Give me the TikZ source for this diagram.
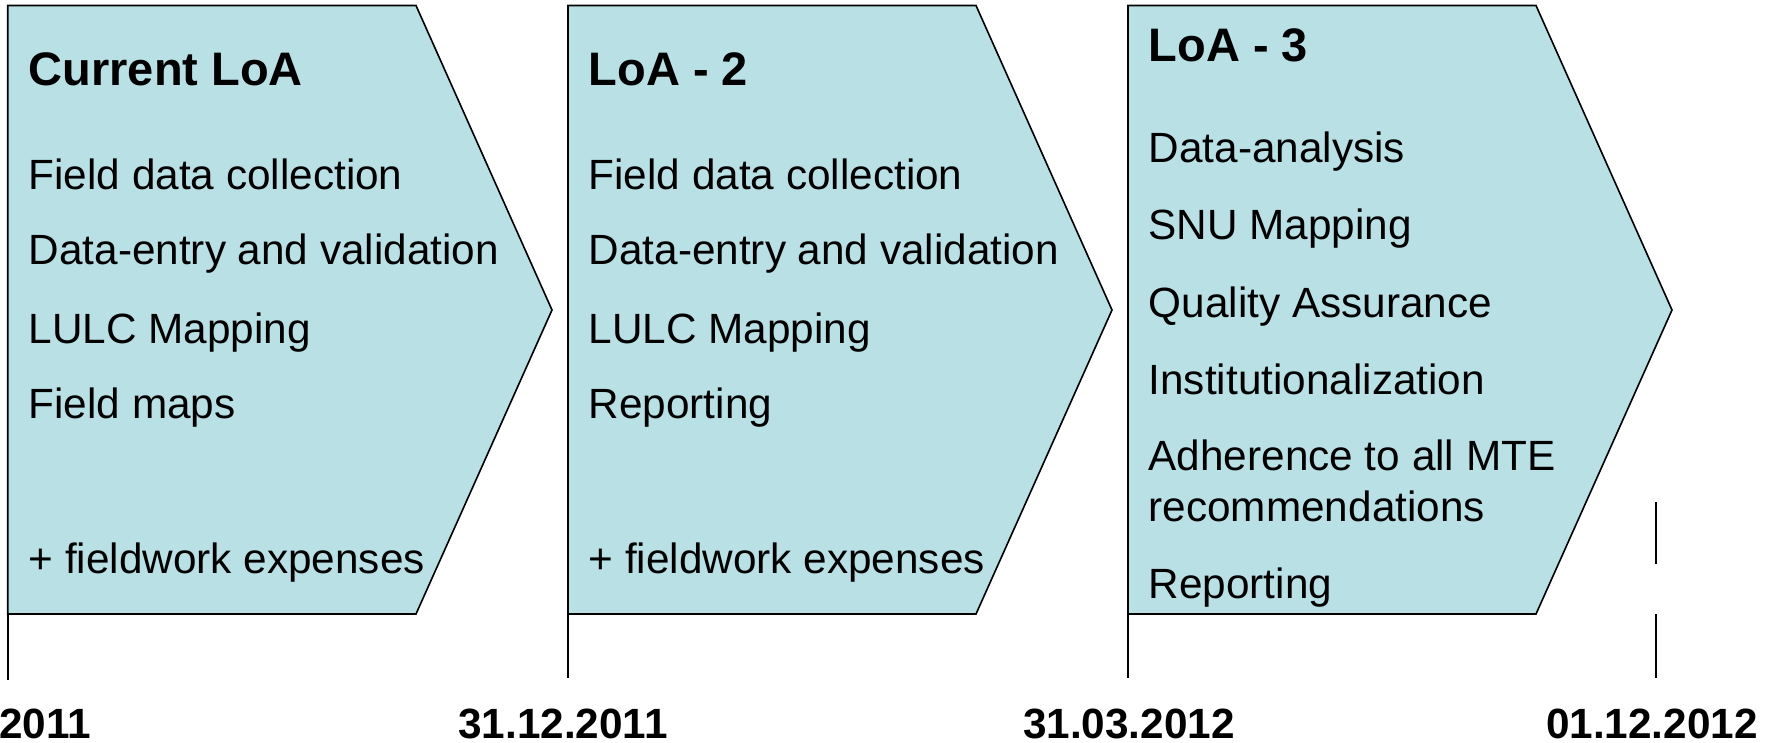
\documentclass[tikz,border=0pt]{standalone}
\usepackage{fontspec}
\setmainfont{Liberation Sans}
\definecolor{loafill}{RGB}{185,224,228}
\begin{document}
\begin{tikzpicture}[x=1pt,y=-1pt,
  chevron/.style={fill=loafill,draw=black,line width=1.6pt,line join=miter},
  tick/.style={draw=black,line width=2pt},
  ttl/.style={anchor=base west,inner sep=0pt,font=\fontsize{47}{56}\selectfont\bfseries},
  itm/.style={anchor=base west,inner sep=0pt,font=\fontsize{42.3}{50}\selectfont},
  dte/.style={anchor=base,inner sep=0pt,font=\fontsize{42.3}{50}\selectfont\bfseries}]
\useasboundingbox (0,0) rectangle (1767,743);
% chevrons
\draw[chevron] (7.7,5.5) -- (416,5.5) -- (552,310) -- (416,614) -- (7.7,614) -- cycle;
\draw[chevron] (568,5.5) -- (976,5.5) -- (1112,310) -- (976,614) -- (568,614) -- cycle;
\draw[chevron] (1128,5.5) -- (1536,5.5) -- (1672,310) -- (1536,614) -- (1128,614) -- cycle;
% tick marks
\coordinate (t1a) at (7.7,615); \coordinate (t1b) at (7.7,680);
\coordinate (t2a) at (568,615); \coordinate (t2b) at (568,678);
\coordinate (t3a) at (1128,615); \coordinate (t3b) at (1128,678);
\coordinate (t4a) at (1655.5,502); \coordinate (t4b) at (1655.5,564);
\coordinate (t4c) at (1655.5,614); \coordinate (t4d) at (1655.5,678);
\draw[tick] (t1a) -- (t1b);
\draw[tick] (t2a) -- (t2b);
\draw[tick] (t3a) -- (t3b);
\draw[tick] (t4a) -- (t4b);
\draw[tick] (t4c) -- (t4d);
% box 1
\node[ttl] (b1t) at (28.5,86) {Current LoA};
\node[itm] (b1a) at (28.5,190) {Field data collection};
\node[itm] (b1b) at (28.5,265) {Data-entry and validation};
\node[itm] (b1c) at (28.5,343) {LULC Mapping};
\node[itm] (b1d) at (28.5,418) {Field maps};
\node[itm] (b1e) at (28.5,573) {+ fieldwork expenses};
% box 2
\node[ttl] (b2t) at (588.5,86) {LoA - 2};
\node[itm] (b2a) at (588.5,190) {Field data collection};
\node[itm] (b2b) at (588.5,265) {Data-entry and validation};
\node[itm] (b2c) at (588.5,343) {LULC Mapping};
\node[itm] (b2d) at (588.5,418) {Reporting};
\node[itm] (b2e) at (588.5,573) {+ fieldwork expenses};
% box 3
\node[ttl] (b3t) at (1148.5,62) {LoA - 3};
\node[itm] (b3a) at (1148.5,163) {Data-analysis};
\node[itm] (b3b) at (1148.5,240) {SNU Mapping};
\node[itm] (b3c) at (1148.5,317) {Quality Assurance};
\node[itm] (b3d) at (1148.5,394) {Institutionalization};
\node[itm] (b3e) at (1148.5,470) {Adherence to all MTE};
\node[itm] (b3f) at (1148.5,521) {recommendations};
\node[itm] (b3g) at (1148.5,598) {Reporting};
% dates
\node[dte,anchor=base west] (d1) at (-1,738) {2011};
\node[dte] (d2) at (563,738) {31.12.2011};
\node[dte] (d3) at (1129,738) {31.03.2012};
\node[dte] (d4) at (1652,738) {01.12.2012};
\end{tikzpicture}
\end{document}
